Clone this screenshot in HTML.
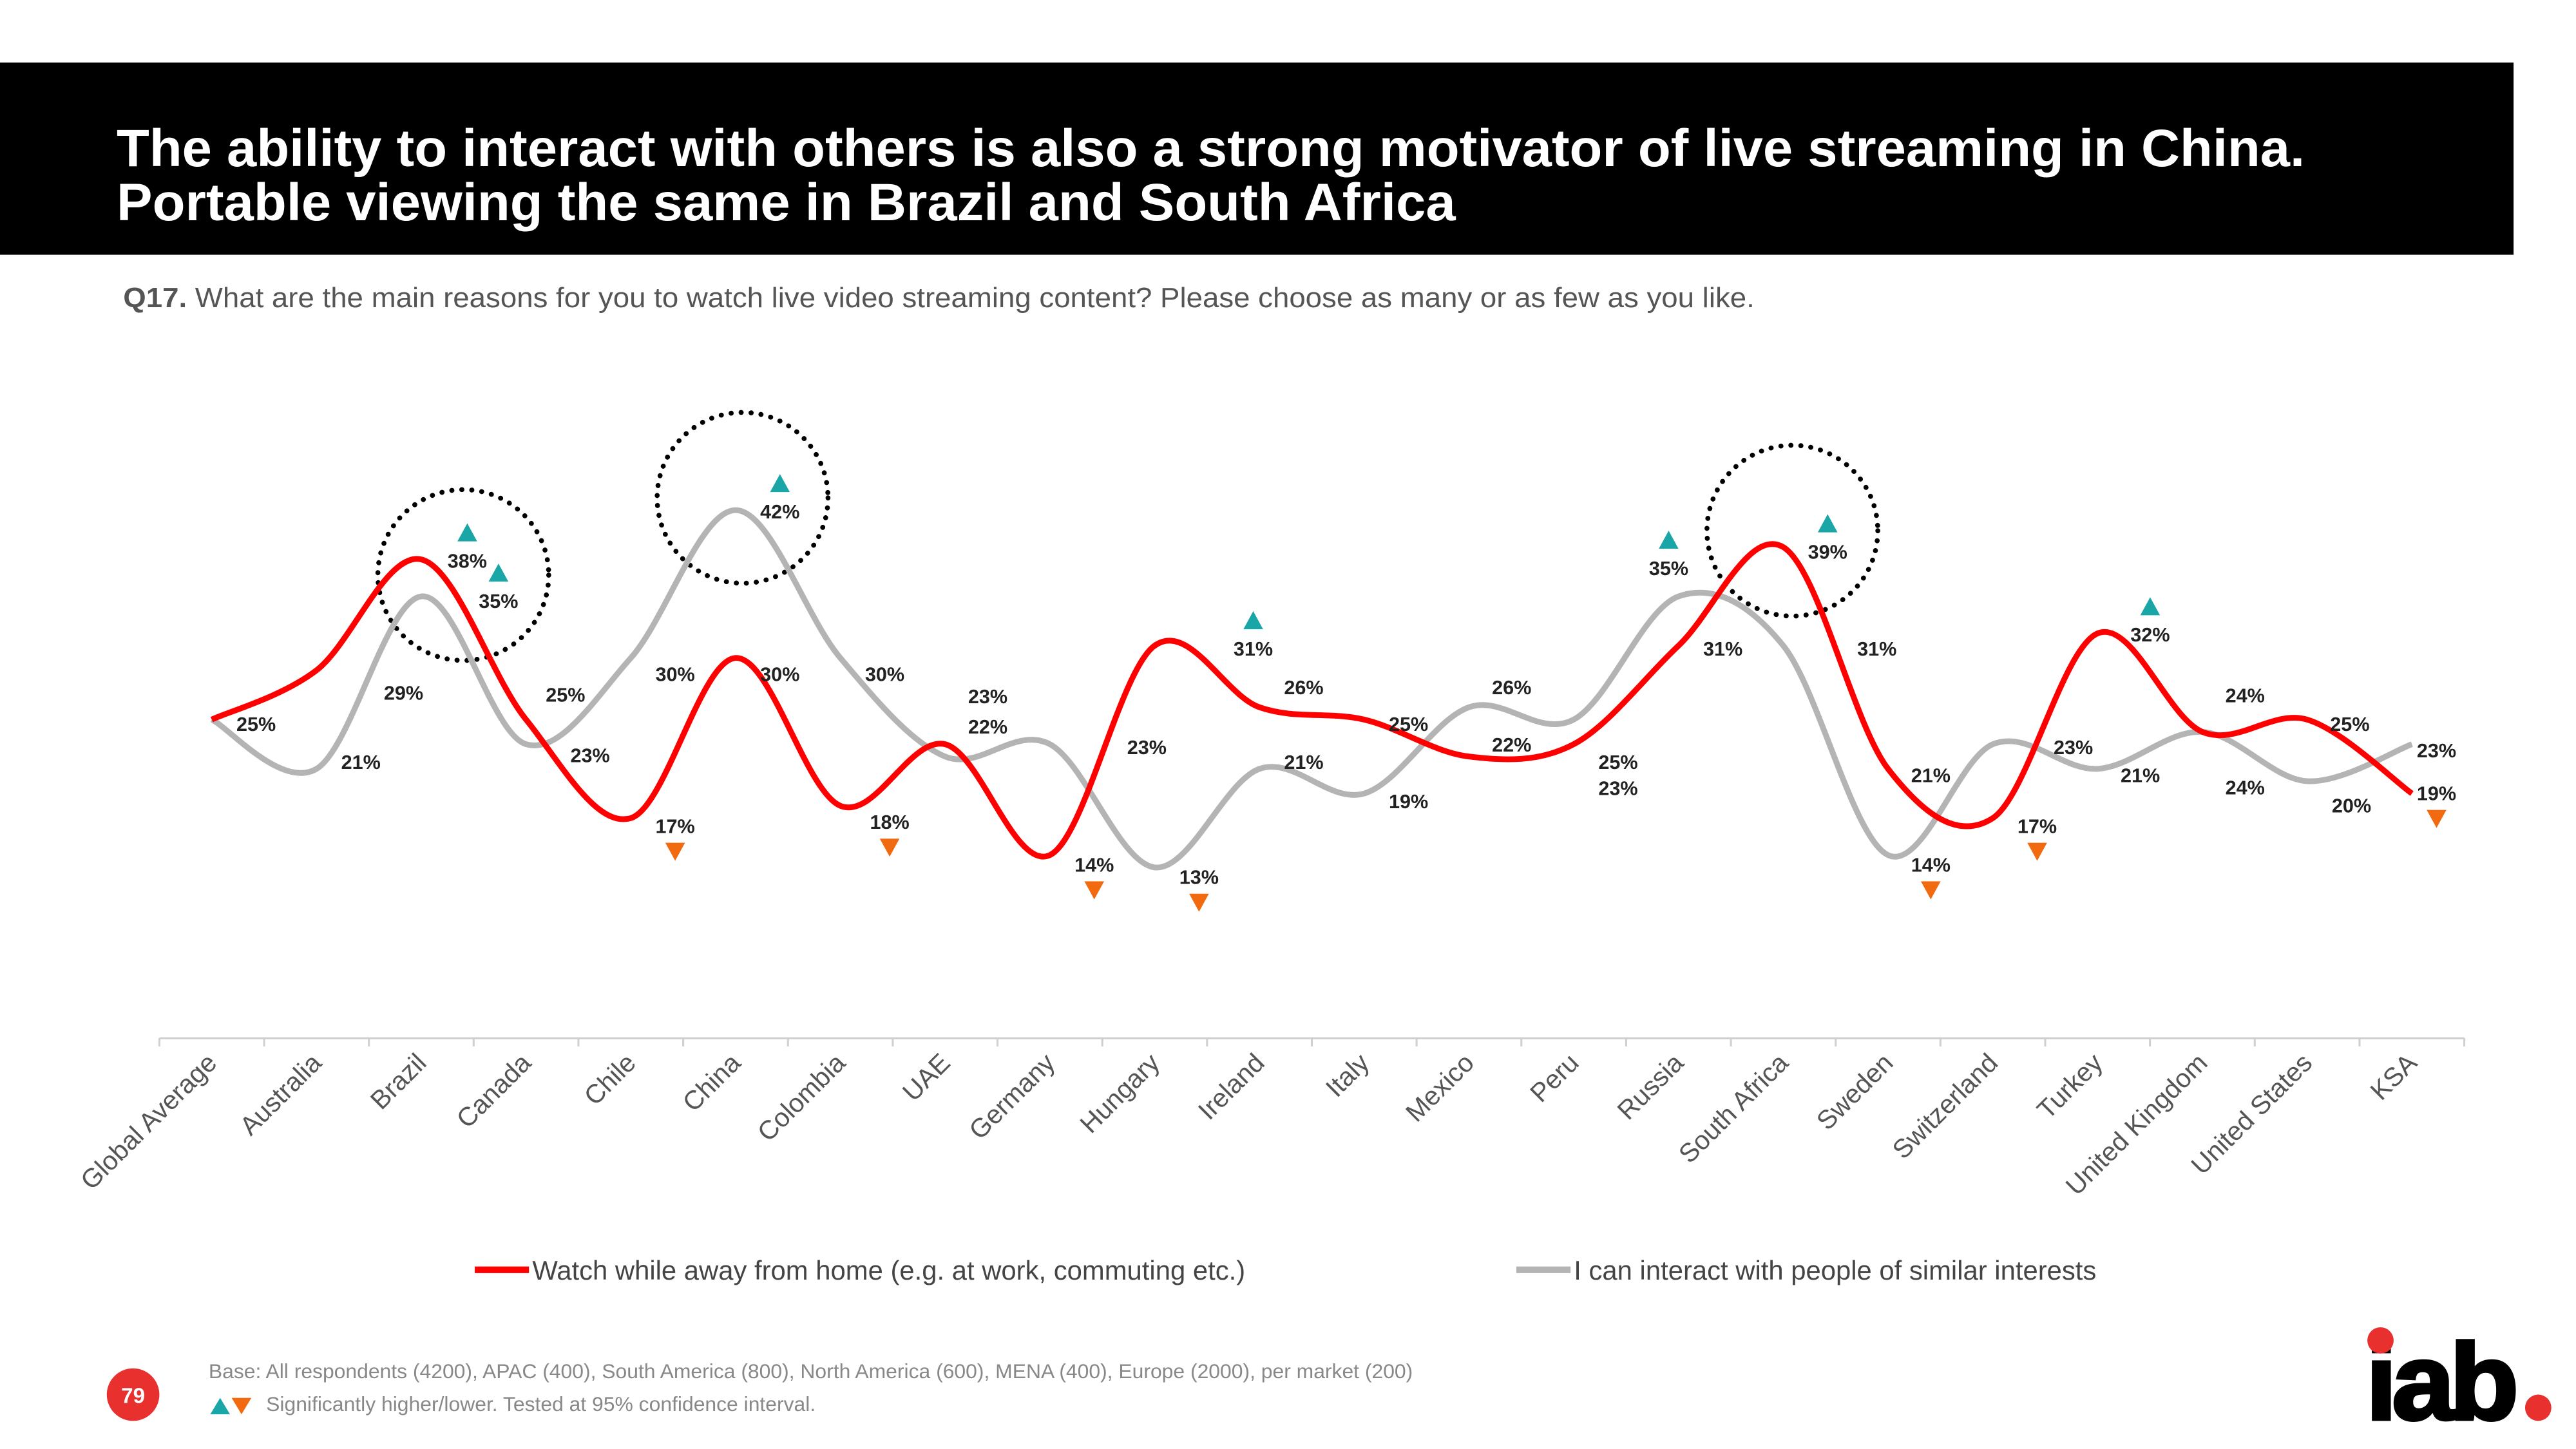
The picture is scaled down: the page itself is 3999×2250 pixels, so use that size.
<!DOCTYPE html>
<html><head><meta charset="utf-8"><style>
html,body{margin:0;padding:0;background:#fff;}
svg{display:block;font-family:"Liberation Sans",Arial,sans-serif;}
</style></head><body>
<svg id="c" width="3999" height="2250" viewBox="0 0 1568 882" xmlns="http://www.w3.org/2000/svg">
<rect x="0" y="38" width="1530" height="117" fill="#000"/>
<text x="71" y="101" fill="#fff" font-size="32" font-weight="bold" textLength="1332" lengthAdjust="spacingAndGlyphs">The ability to interact with others is also a strong motivator of live streaming in China.</text>
<text x="71" y="134" fill="#fff" font-size="32" font-weight="bold" textLength="815" lengthAdjust="spacingAndGlyphs">Portable viewing the same in Brazil and South Africa</text>
<text x="75" y="187" fill="#555" font-size="17" textLength="993" lengthAdjust="spacingAndGlyphs"><tspan font-weight="bold">Q17.</tspan> What are the main reasons for you to watch live video streaming content? Please choose as many or as few as you like.</text>
<g id="axis"></g>
<g id="circles">
<circle cx="282" cy="350" r="52" fill="none" stroke="#000" stroke-width="3" stroke-dasharray="0.1 6" stroke-linecap="round"/>
<circle cx="452" cy="303" r="52" fill="none" stroke="#000" stroke-width="3" stroke-dasharray="0.1 6" stroke-linecap="round"/>
<circle cx="1091" cy="323" r="52" fill="none" stroke="#000" stroke-width="3" stroke-dasharray="0.1 6" stroke-linecap="round"/>
</g>
<g id="series"></g>
<g id="labels"></g>
<g id="marks"></g>
<g>
<line x1="289" y1="773" x2="322" y2="773" stroke="#f00" stroke-width="4"/>
<text x="324" y="779" font-size="16.4" fill="#444">Watch while away from home (e.g. at work, commuting etc.)</text>
<line x1="923" y1="773" x2="956" y2="773" stroke="#b4b4b4" stroke-width="4"/>
<text x="958" y="779" font-size="16.4" fill="#444">I can interact with people of similar interests</text>
</g>
<circle cx="81" cy="849" r="16" fill="#e8302e"/>
<text x="81" y="854" font-size="13" font-weight="bold" fill="#fff" text-anchor="middle">79</text>
<text x="127" y="839" font-size="12.5" fill="#888">Base: All respondents (4200), APAC (400), South America (800), North America (600), MENA (400), Europe (2000), per market (200)</text>
<polygon points="128,861 134,851 140,861" fill="#1aa6a6"/>
<polygon points="141,851 153,851 147,861" fill="#f26a10"/>
<text x="162" y="859" font-size="12.5" fill="#888">Significantly higher/lower. Tested at 95% confidence interval.</text>
<g>
<text x="1440" y="864" font-size="66" font-weight="bold" fill="#000" letter-spacing="-3" textLength="90" lengthAdjust="spacingAndGlyphs" stroke="#000" stroke-width="2">iab</text>
<circle cx="1449" cy="816" r="8" fill="#e8302e"/>
<circle cx="1545" cy="857" r="8" fill="#e8302e"/>
</g>
</svg>
<script>
const categories=["Global Average","Australia","Brazil","Canada","Chile","China","Colombia","UAE","Germany","Hungary","Ireland","Italy","Mexico","Peru","Russia","South Africa","Sweden","Switzerland","Turkey","United Kingdom","United States","KSA"];
const awayValues=[25,29,38,25,17,30,18,23,14,31,26,25,22,23,31,39,21,17,32,24,25,19];
const interactValues=[25,21,35,23,30,42,30,22,23,13,21,19,26,25,35,31,14,23,21,24,20,23];
const upMarkers=[["Brazil",0],["Brazil",1],["China",1],["Hungary",0],["Russia",1],["South Africa",0],["Turkey",0]];
const downMarkers=[["Chile",0],["Colombia",0],["Germany",0],["Hungary",1],["Sweden",1],["Switzerland",0],["KSA",0]];
const NS="http://www.w3.org/2000/svg";
const x0=97,x1=1500,axisY=632;
const step=(x1-x0)/categories.length;
function xs(i){return x0+step*(i+0.5);}
function ys(v){return 625.5-7.5*v;}
function mk(tag,attrs,parent){const e=document.createElementNS(NS,tag);for(const k in attrs)e.setAttribute(k,attrs[k]);parent.appendChild(e);return e;}
const axis=document.getElementById('axis');
let l=mk('line',{x1:x0,y1:axisY,x2:x1,y2:axisY,stroke:'#d0d0d0','stroke-width':1.2},axis);


for(let i=0;i<=categories.length;i++){
 const t=mk('line',{x1:x0+step*i,y1:axisY,x2:x0+step*i,y2:axisY+5,stroke:'#d0d0d0','stroke-width':1.2},axis);
 
 
}
categories.forEach((c,i)=>{
 const x=xs(i)+4,y=axisY+16;
 const t=mk('text',{x:x,y:y,'font-size':16,fill:'#555','text-anchor':'end',transform:`rotate(-45 ${x} ${y})`},axis);
 t.textContent=c;
 
 
});
function pathFor(vals){
 const p=vals.map((v,i)=>[xs(i),ys(v)]);
 let d=`M${p[0][0]},${p[0][1]}`;
 for(let i=0;i<p.length-1;i++){
  const a=p[Math.max(0,i-1)],b=p[i],c=p[i+1],e=p[Math.min(p.length-1,i+2)];
  const c1=[b[0]+(c[0]-a[0])/6,b[1]+(c[1]-a[1])/6],c2=[c[0]-(e[0]-b[0])/6,c[1]-(e[1]-b[1])/6];
  d+=` C${c1[0]},${c1[1]} ${c2[0]},${c2[1]} ${c[0]},${c[1]}`;
 }
 return d;
}
const ser=document.getElementById('series');
let g=mk('path',{d:pathFor(interactValues),fill:'none',stroke:'#b4b4b4','stroke-width':3.5},ser);


let r=mk('path',{d:pathFor(awayValues),fill:'none',stroke:'#f00','stroke-width':3.5},ser);


const redOff=[[27,3],[53,14],[28,1],[24,-15],[27,5],[27,10],[30,10],[26,-29],[27,6],[60,2],[27,-12],[27,3],[26,-7],[27,27],[27,2],[27,3],[26,4],[27,5],[32,1],[26,-22],[26,3],[15,0]];
const grayOff=[null,[27,-4],[47,3],[39,7],[27,10],[27,1],[27,10],[26,-18],[59,2],[27,6],[27,-4],[27,5],[26,-12],[27,26],[-6,-17],[57,2],[26,6],[49,2],[26,4],[26,34],[27,15],[15,4]];
const lab=document.getElementById('labels');
function addLabels(vals,off,name){
 vals.forEach((v,i)=>{
  if(!off[i])return;
  const t=mk('text',{x:xs(i)+off[i][0],y:ys(v)+off[i][1]+4,'font-size':12,'font-weight':'bold',fill:'#222','text-anchor':'middle'},lab);
  t.textContent=v+'%';
  
  
 });
}
addLabels(awayValues,redOff,'away-value-label');
addLabels(interactValues,grayOff,'interact-value-label');
const mg=document.getElementById('marks');
function markPos(m){const i=categories.indexOf(m[0]);const v=(m[1]?interactValues:awayValues)[i];const o=(m[1]?grayOff:redOff)[i];return [xs(i)+o[0],ys(v)+o[1]];}
upMarkers.forEach(m=>{const [x,y]=markPos(m);const p=mk('polygon',{points:`${x-6},${y-12} ${x},${y-23} ${x+6},${y-12}`,fill:'#1aa6a6'},mg);
 
 });
downMarkers.forEach(m=>{const [x,y]=markPos(m);const p=mk('polygon',{points:`${x-6},${y+10} ${x+6},${y+10} ${x},${y+21}`,fill:'#f26a10'},mg);
 
 });
</script>
</body></html>
